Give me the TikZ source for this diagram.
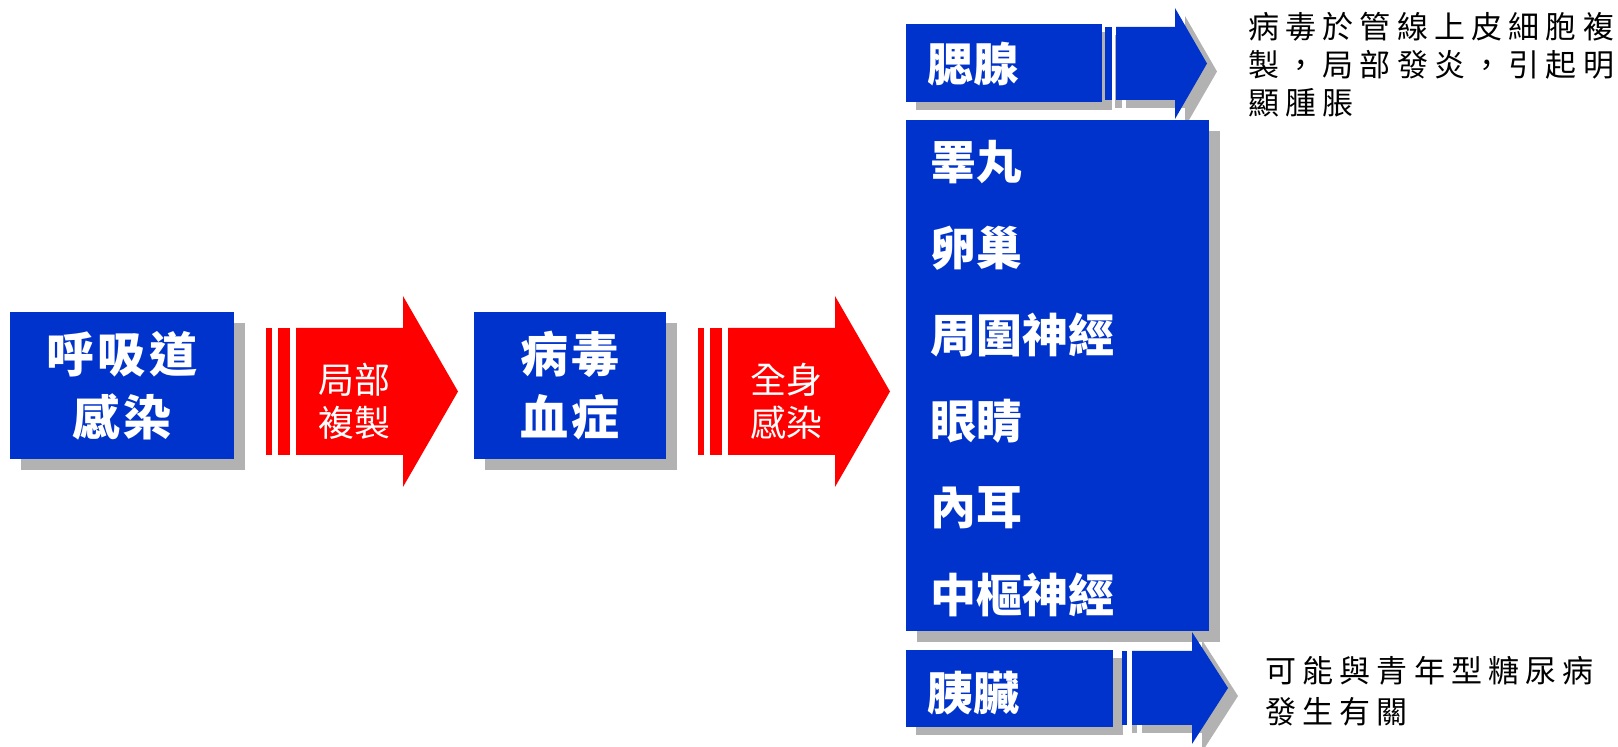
\documentclass[tikz,border=0pt]{standalone}
\usepackage{fontspec}
\newfontfamily\cjk{Noto Sans CJK TC}
\newfontfamily\cjkwide[LetterSpace=8]{Noto Sans CJK TC}
\newfontfamily\cjknote[LetterSpace=20]{Noto Sans CJK TC}
\usetikzlibrary{calc}
\pgfdeclarelayer{bg}
\pgfsetlayers{bg,main}
\definecolor{boxblue}{RGB}{0,51,204}
\definecolor{shadowgray}{RGB}{178,178,178}
\definecolor{arrowred}{RGB}{255,0,0}
\tikzset{
  bluebox/.style={fill=boxblue, draw=none, inner sep=0pt, outer sep=0pt},
  boxtext/.style={text=white, font=\cjkwide\bfseries\fontsize{24}{31.5}\selectfont, align=center},
  arrowtext/.style={text=white, font=\cjk\fontsize{18}{21.5}\selectfont, align=center, inner sep=0pt},
  organtext/.style={text=white, font=\cjk\bfseries\fontsize{23}{23}\selectfont, anchor=west, inner sep=0pt},
  notetext/.style={text=black, font=\cjknote\fontsize{15.5}{19}\selectfont, align=left, anchor=north west, inner sep=0pt},
  shadowfill/.style={fill=shadowgray, draw=none},
  redfill/.style={fill=arrowred, draw=none},
  bluefill/.style={fill=boxblue, draw=none},
}
\begin{document}
\begin{tikzpicture}[x=0.5pt,y=-0.5pt]
\useasboundingbox (0,0) rectangle (1618,747);
% blue boxes
\node[bluebox, boxtext, minimum width=112pt, minimum height=73.5pt] (b1) at (122,385.5) {呼吸道\\感染};
\node[bluebox, boxtext, minimum width=96pt, minimum height=73.5pt] (b2) at (570,385.5) {病毒\\血症};
\node[bluebox, minimum width=151.5pt, minimum height=255.5pt] (big) at (1057.5,375.5) {};
\node[bluebox, minimum width=98pt, minimum height=39pt] (topbox) at (1004,63) {};
\node[bluebox, minimum width=103.5pt, minimum height=38.5pt] (botbox) at (1009.5,688.5) {};
% blue arrows
\fill[bluefill] (1105,27) rectangle (1112,100);
\fill[bluefill] (1116,27) -- (1175,27) -- (1175,8) -- (1207,63.5) -- (1175,119) -- (1175,100) -- (1116,100) -- cycle;
\fill[bluefill] (1122,651) rectangle (1127,725);
\fill[bluefill] (1132,651) -- (1192,651) -- (1192,632) -- (1228,688) -- (1192,744) -- (1192,725) -- (1132,725) -- cycle;
% shadows
\begin{pgfonlayer}{bg}
\foreach \n in {b1,b2,big}
  \fill[shadowfill] ([shift={(11,11)}]\n.north west) rectangle ([shift={(11,11)}]\n.south east);
\foreach \n in {topbox,botbox}
  \fill[shadowfill] ([shift={(10,8)}]\n.north west) rectangle ([shift={(10,8)}]\n.south east);
\begin{scope}[shift={(10,8)}]
\fill[shadowfill] (1105,27) rectangle (1112,100);
\fill[shadowfill] (1116,27) -- (1175,27) -- (1175,8) -- (1207,63.5) -- (1175,119) -- (1175,100) -- (1116,100) -- cycle;
\fill[shadowfill] (1122,651) rectangle (1127,725);
\fill[shadowfill] (1132,651) -- (1192,651) -- (1192,632) -- (1228,688) -- (1192,744) -- (1192,725) -- (1132,725) -- cycle;
\end{scope}
\end{pgfonlayer}
% red arrows
\fill[redfill] (266,328) rectangle (272,455);
\fill[redfill] (278,328) rectangle (290,455);
\fill[redfill] (296,328) -- (403,328) -- (403,296) -- (458,391.5) -- (403,487) -- (403,455) -- (296,455) -- cycle;
\node[arrowtext] (a1) at (354,401) {局部\\複製};
\begin{scope}[shift={(432,0)}]
\fill[redfill] (266,328) rectangle (272,455);
\fill[redfill] (278,328) rectangle (290,455);
\fill[redfill] (296,328) -- (403,328) -- (403,296) -- (458,391.5) -- (403,487) -- (403,455) -- (296,455) -- cycle;
\node[arrowtext] (a2) at (354,401) {全身\\感染};
\end{scope}
% organ labels
\node[organtext] (g1) at (927,64) {腮腺};
\node[organtext] (o1) at (930,162) {睪丸};
\node[organtext] (o2) at (930,248.5) {卵巢};
\node[organtext] (o3) at (930,335) {周圍神經};
\node[organtext] (o4) at (930,421.5) {眼睛};
\node[organtext] (o5) at (930,508) {內耳};
\node[organtext] (o6) at (930,594.5) {中樞神經};
\node[organtext] (g2) at (927,693) {胰臟};
% notes
\node[notetext] (n1) at (1248,12) {病毒於管線上皮細胞複\\製，局部發炎，引起明\\顯腫脹};
\node[notetext, font=\cjknote\fontsize{15.5}{20.5}\selectfont] (n2) at (1265,656) {可能與青年型糖尿病\\發生有關};
\end{tikzpicture}
\end{document}
